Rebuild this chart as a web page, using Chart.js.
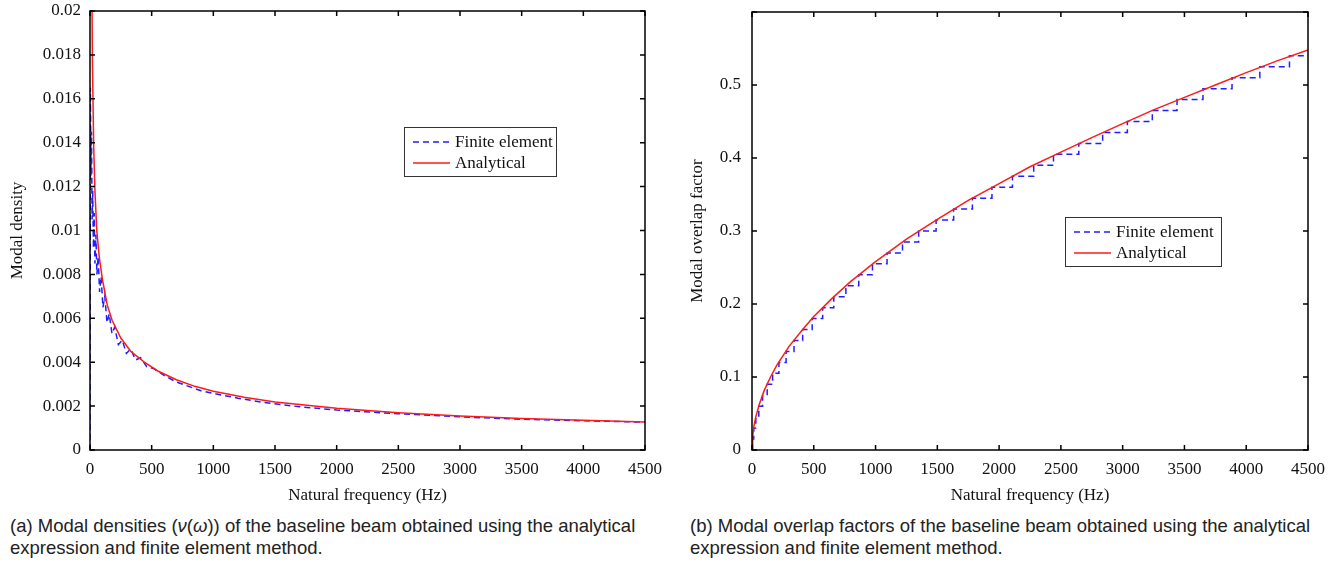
<!DOCTYPE html>
<html>
<head>
<meta charset="utf-8">
<script src="https://cdn.jsdelivr.net/npm/chart.js@4.4.1/dist/chart.umd.min.js"></script>
<style>
  body { margin: 0; background: #fff; width: 1337px; height: 562px; position: relative; overflow: hidden; }
  canvas { position: absolute; top: 0; }
  #density { left: 0; }
  #overlap { left: 670px; }
  .caption {
    position: absolute; top: 515px;
    font-family: "Liberation Sans", Arial, sans-serif;
    font-size: 18.5px; line-height: 22px; color: #222; white-space: nowrap;
  }
  #capA { left: 10px; }
  #capB { left: 690px; }
</style>
</head>
<body>
<canvas id="density" width="668" height="510"></canvas>
<canvas id="overlap" width="667" height="510"></canvas>
<div class="caption" id="capA">(a) Modal densities (<i>ν</i>(<i>ω</i>)) of the baseline beam obtained using the analytical<br>expression and finite element method.</div>
<div class="caption" id="capB">(b) Modal overlap factors of the baseline beam obtained using the analytical<br>expression and finite element method.</div>
<script>
// tick values
const freqTicks = [0, 500, 1000, 1500, 2000, 2500, 3000, 3500, 4000, 4500];
const densityTicks = [0, 0.002, 0.004, 0.006, 0.008, 0.01, 0.012, 0.014, 0.016, 0.018, 0.02];
const overlapTicks = [0, 0.1, 0.2, 0.3, 0.4, 0.5, 0.6];

// (a) modal density, analytical
const densityFreqAnalytical = [2, 5, 10, 15, 20, 30, 40, 55, 75, 100, 140, 180, 250, 330, 440, 550, 700, 850, 1000, 1250, 1500, 2000, 2500, 3000, 3500, 4000, 4500];
const densityAnalytical = [0.06, 0.038, 0.026, 0.021, 0.0175, 0.0138, 0.0118, 0.0100, 0.0088, 0.0078, 0.0066, 0.0059, 0.0051, 0.0045, 0.0040, 0.0036, 0.0032, 0.0029, 0.00268, 0.0024, 0.00219, 0.0019, 0.0017, 0.00155, 0.00144, 0.00135, 0.00127];

// (a) modal density, finite element
const densityFreqFE = [0, 3, 8, 12, 17, 22, 28, 34, 40, 48, 56, 66, 78, 90, 105, 120, 138, 156, 178, 200, 230, 262, 295, 330, 370, 410, 460, 520, 600, 700, 800, 900, 1000, 1200, 1400, 1700, 2000, 2500, 3000, 3500, 4000, 4500];
const densityFE = [0, 0.0165, 0.0125, 0.0145, 0.0105, 0.0118, 0.0092, 0.0108, 0.0085, 0.0098, 0.0080, 0.0088, 0.0072, 0.0079, 0.0065, 0.0070, 0.0058, 0.0062, 0.0053, 0.0056, 0.0048, 0.0050, 0.0044, 0.0046, 0.0041, 0.0042, 0.0038, 0.0037, 0.0034, 0.0031, 0.0029, 0.0027, 0.00258, 0.00236, 0.00217, 0.00197, 0.00182, 0.00165, 0.00151, 0.00140, 0.00133, 0.00127];

// (b) modal overlap factor, analytical
const overlapFreqAnalytical = [0, 5, 15, 30, 60, 100, 150, 200, 300, 400, 500, 650, 800, 1000, 1250, 1500, 1750, 2000, 2250, 2500, 2750, 3000, 3250, 3500, 3750, 4000, 4250, 4500];
const overlapAnalytical = [0, 0.018, 0.032, 0.045, 0.063, 0.082, 0.100, 0.116, 0.142, 0.163, 0.183, 0.208, 0.231, 0.258, 0.289, 0.316, 0.342, 0.365, 0.388, 0.408, 0.428, 0.447, 0.466, 0.483, 0.500, 0.517, 0.533, 0.548];

// (b) modal overlap factor, finite element (step levels)
const overlapFreqFE = [0, 4, 14, 31, 55, 86, 123, 167, 218, 276, 340, 410, 487, 572, 662, 760, 864, 975, 1093, 1218, 1349, 1490, 1632, 1784, 1942, 2108, 2280, 2440, 2645, 2838, 3038, 3240, 3440, 3650, 3885, 4110, 4350, 4500];
const overlapFE = [0, 0.015, 0.03, 0.045, 0.06, 0.075, 0.09, 0.105, 0.12, 0.135, 0.15, 0.165, 0.18, 0.195, 0.21, 0.225, 0.24, 0.255, 0.27, 0.285, 0.3, 0.315, 0.33, 0.345, 0.36, 0.375, 0.39, 0.405, 0.42, 0.435, 0.45, 0.465, 0.48, 0.495, 0.51, 0.525, 0.54, 0.54];

const seriesNames = ['Finite element', 'Analytical'];
const feColor = '#1f1fff';
const anColor = '#ff1a1a';

Chart.defaults.font.family = '"Liberation Serif", "Times New Roman", serif';
Chart.defaults.font.size = 17;
Chart.defaults.color = '#111';

function pts(xs, ys) {
  return xs.map((x, i) => ({ x: x, y: ys[i] }));
}

// keep the plot box where the layout padding says, labels may overflow
function noMargins(s) {
  s.paddingTop = 0;
  s.paddingBottom = 0;
  s.paddingLeft = 0;
  s.paddingRight = 0;
}

// MATLAB-like box with inward ticks and a boxed legend inside the axes
const framePlugin = {
  id: 'frame',
  afterDraw(chart, args, opts) {
    const { ctx, chartArea: a, scales: { x, y } } = chart;
    ctx.save();
    ctx.strokeStyle = '#000';
    ctx.lineWidth = 1.5;
    ctx.strokeRect(a.left, a.top, a.right - a.left, a.bottom - a.top);
    ctx.beginPath();
    x.ticks.forEach((t) => {
      const px = x.getPixelForValue(t.value);
      ctx.moveTo(px, a.bottom); ctx.lineTo(px, a.bottom - 5);
      ctx.moveTo(px, a.top); ctx.lineTo(px, a.top + 5);
    });
    y.ticks.forEach((t) => {
      const py = y.getPixelForValue(t.value);
      ctx.moveTo(a.left, py); ctx.lineTo(a.left + 5, py);
      ctx.moveTo(a.right, py); ctx.lineTo(a.right - 5, py);
    });
    ctx.stroke();

    // legend
    const lx = a.left + opts.x, ly = a.top + opts.y;
    ctx.fillStyle = '#fff';
    ctx.fillRect(lx, ly, opts.w, 49);
    ctx.strokeStyle = '#333';
    ctx.lineWidth = 1;
    ctx.strokeRect(lx + 0.5, ly + 0.5, opts.w, 49);
    ctx.font = '17px "Liberation Serif", serif';
    ctx.textBaseline = 'middle';
    chart.data.datasets.forEach((ds, i) => {
      const ry = ly + 15 + i * 21;
      ctx.strokeStyle = ds.borderColor;
      ctx.lineWidth = 1.5;
      ctx.setLineDash(ds.borderDash || []);
      ctx.beginPath();
      ctx.moveTo(lx + 9, ry); ctx.lineTo(lx + 46, ry);
      ctx.stroke();
      ctx.setLineDash([]);
      ctx.fillStyle = '#111';
      ctx.fillText(ds.label, lx + 51, ry + 1);
    });
    ctx.restore();
  }
};

function makeChart(id, feData, anData, yTicks, yMax, yTitle, yWidth, yTitlePad, yTickPad, pad, legend, feStepped) {
  return new Chart(document.getElementById(id), {
    type: 'line',
    data: {
      datasets: [
        {
          label: seriesNames[0],
          data: feData,
          borderColor: feColor,
          borderWidth: 1.5,
          borderDash: [6, 4],
          stepped: feStepped,
          pointRadius: 0,
          order: 2,
        },
        {
          label: seriesNames[1],
          data: anData,
          borderColor: anColor,
          borderWidth: 1.5,
          pointRadius: 0,
          order: 1,
        },
      ],
    },
    options: {
      responsive: false,
      animation: false,
      devicePixelRatio: 1,
      layout: { padding: pad },
      plugins: {
        legend: { display: false },
        tooltip: { enabled: false },
        frame: legend,
      },
      scales: {
        x: {
          type: 'linear',
          min: 0,
          max: 4500,
          afterBuildTicks: (s) => { s.ticks = freqTicks.map((v) => ({ value: v })); },
          afterFit: (s) => { s.height = 60; noMargins(s); },
          grid: { display: false, drawTicks: false },
          border: { display: false },
          ticks: { padding: 9, callback: (v) => String(v) },
          title: { display: true, text: 'Natural frequency (Hz)', padding: { top: 5 } },
        },
        y: {
          type: 'linear',
          min: 0,
          max: yMax,
          afterBuildTicks: (s) => { s.ticks = yTicks.map((v) => ({ value: v })); },
          afterFit: (s) => { s.width = yWidth; noMargins(s); },
          grid: { display: false, drawTicks: false },
          border: { display: false },
          ticks: {
            padding: yTickPad,
            callback: (v) => (yMax === 0.6 && v === 0.6 ? '' : String(+v.toFixed(4))),
          },
          title: { display: true, text: yTitle, padding: { top: yTitlePad, bottom: 0 } },
        },
      },
    },
    plugins: [framePlugin],
  });
}

makeChart('density', pts(densityFreqFE, densityFE), pts(densityFreqAnalytical, densityAnalytical),
  densityTicks, 0.02, 'Modal density', 90, 7, 9, { top: 11, right: 23, left: 0, bottom: 0 },
  { x: 314, y: 116, w: 152 }, false);

makeChart('overlap', pts(overlapFreqFE, overlapFE), pts(overlapFreqAnalytical, overlapAnalytical),
  overlapTicks, 0.6, 'Modal overlap factor', 82, 17, 11, { top: 12, right: 29, left: 0, bottom: 0 },
  { x: 313, y: 205, w: 156 }, true);
</script>
</body>
</html>
